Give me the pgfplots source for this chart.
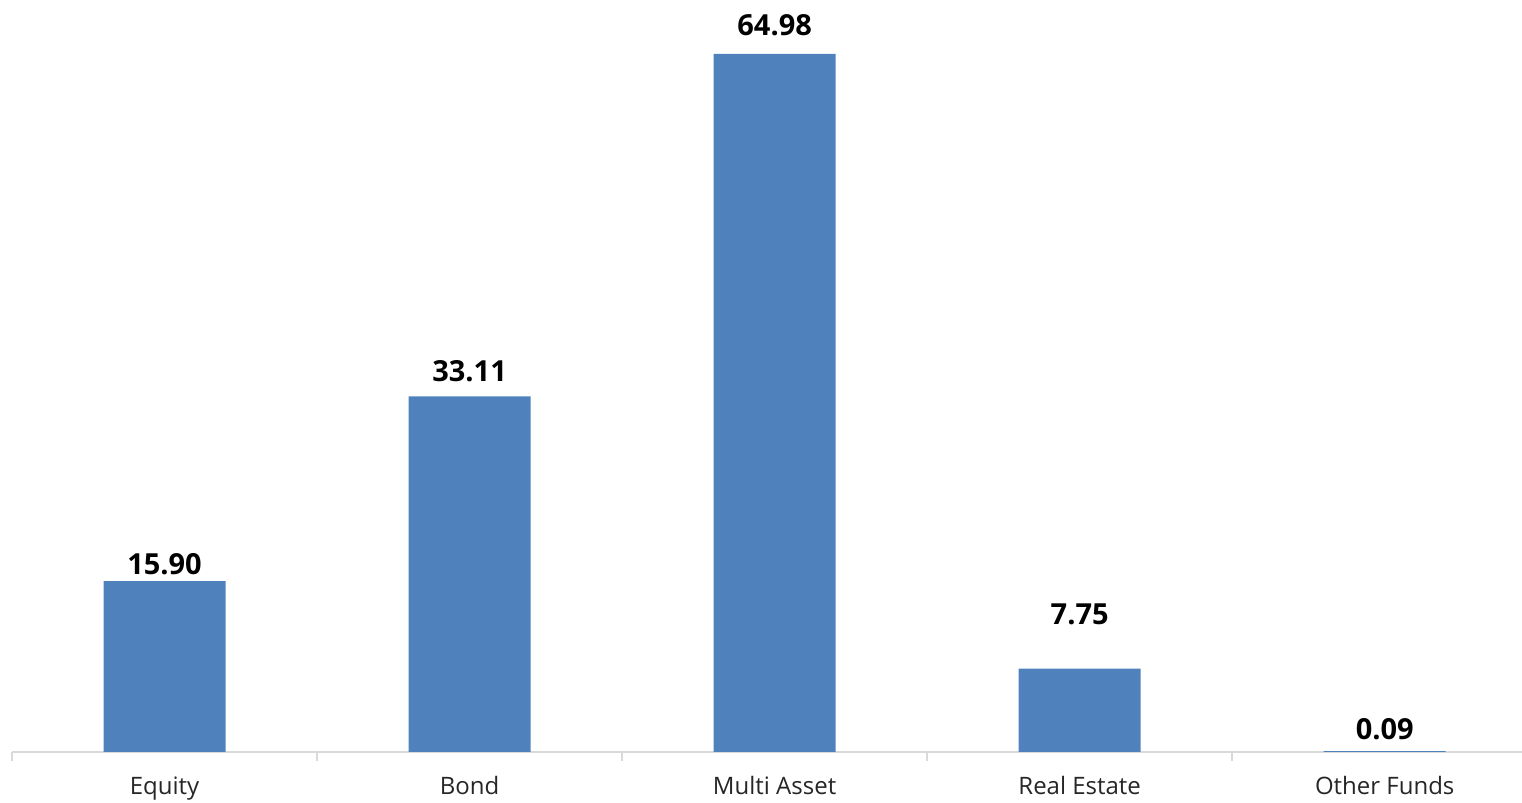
\documentclass[border=0pt]{standalone}
\usepackage{pgfplots}
\usepackage{pgfplotstable}
\pgfplotsset{compat=1.18}
\usepackage{fontspec}
\setmainfont{Open Sans}
\definecolor{barblue}{HTML}{4F81BD}
\definecolor{axisgray}{HTML}{D9D9D9}

% x, value, label gap above bar (pt)
\pgfplotstableread{
x  y     gap
0  15.90 3.5
1  33.11 7.5
2  64.98 9
3  7.75  22
4  0.09  6
}\funds

\begin{document}
\begin{tikzpicture}
  \begin{axis}[
        ybar,
        scale only axis,
        width=755pt, height=376pt,
        bar width=61pt,
        xmin=-0.5, xmax=4.45,
        ymin=0, ymax=70,
        axis y line=none,
        axis x line*=bottom,
        x axis line style={draw=axisgray, line width=0.8pt},
        xtick=data,
        xticklabels={Equity, Bond, Multi Asset, Real Estate, Other Funds},
        major tick length=0pt,
        xticklabel style={font=\fontsize{12}{14}\selectfont, text=black!85,
            anchor=base, inner sep=0pt, yshift=-21.5pt},
        extra x ticks={-0.5,0.5,1.5,2.5,3.5},
        extra x tick labels={},
        extra x tick style={major tick length=4.5pt, tick align=outside,
            major tick style={draw=axisgray, line width=0.8pt}},
        visualization depends on={\thisrow{gap} \as \labelgap},
        nodes near coords={\pgfmathprintnumber[fixed, zerofill, precision=2,
            assume math mode=true]{\pgfplotspointmeta}},
        every node near coord/.append style={
            font=\bfseries\fontsize{14.5}{16}\selectfont,
            anchor=base, inner sep=0pt, yshift=\labelgap pt},
        clip=false,
    ]
\addplot [fill=barblue, draw=none] table [x=x, y=y] {\funds};
\end{axis}
\pgfresetboundingbox
\path ([xshift=-6pt, yshift=-25.5pt]current axis.south west)
  rectangle (current axis.north east);
\end{tikzpicture}
\end{document}
